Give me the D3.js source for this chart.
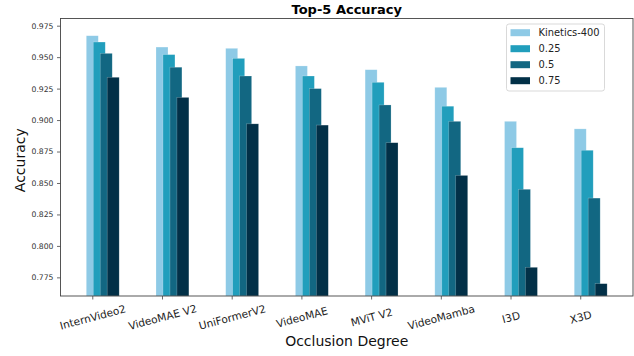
<!DOCTYPE html>
<html>
<head>
<meta charset="utf-8">
<script src="https://cdn.jsdelivr.net/npm/d3@7"></script>
<style>
  html, body { margin: 0; padding: 0; background: #fff; }
  svg { display: block; font-family: "DejaVu Sans", sans-serif; }
</style>
</head>
<body>
<svg id="chart" width="634" height="356"></svg>
<script>
// Models along the x axis
const models = ["InternVideo2", "VideoMAE V2", "UniFormerV2", "VideoMAE", "MViT V2", "VideoMamba", "I3D", "X3D"];

// Top-5 accuracy per occlusion degree
const series = ["Kinetics-400", "0.25", "0.5", "0.75"];
const kinetics400 = [0.967, 0.958, 0.957, 0.943, 0.940, 0.926, 0.899, 0.893];
const occ025      = [0.962, 0.952, 0.949, 0.935, 0.930, 0.911, 0.878, 0.876];
const occ050      = [0.953, 0.942, 0.935, 0.925, 0.912, 0.899, 0.845, 0.838];
const occ075      = [0.934, 0.918, 0.897, 0.896, 0.882, 0.856, 0.783, 0.770];
const seriesValues = [kinetics400, occ025, occ050, occ075];
const colors = ["#8ecae6", "#219ebc", "#126782", "#023047"];

const yTicks = [0.775, 0.800, 0.825, 0.850, 0.875, 0.900, 0.925, 0.950, 0.975];

const svg = d3.select("#chart");
const plot = { left: 60.5, right: 633, top: 18.5, bottom: 296 };

const barWidth = 0.172;  // in category units
const barStep = 0.1;     // shift between consecutive series

const x = d3.scaleLinear().domain([-0.456, 7.757]).range([plot.left, plot.right]);
const y = d3.scaleLinear().domain([0.7602, 0.9807]).range([plot.bottom, plot.top]);

// Bars
const g = svg.append("g");
series.forEach((name, si) => {
  g.selectAll(null)
    .data(seriesValues[si])
    .join("rect")
    .attr("x", (d, i) => x(i + si * barStep - barWidth / 2))
    .attr("width", x(barWidth) - x(0))
    .attr("y", d => y(d))
    .attr("height", d => y.range()[0] - y(d))
    .attr("fill", colors[si])
    .attr("stroke", "#ffffff")
    .attr("stroke-opacity", 0.35)
    .attr("stroke-width", 0.6);
});

// Y axis
const yAxis = svg.append("g")
  .attr("transform", `translate(${plot.left},0)`)
  .call(d3.axisLeft(y).tickValues(yTicks).tickFormat(d3.format(".3f")).tickSize(3.5).tickPadding(3.5));
yAxis.select(".domain").remove();
yAxis.selectAll("text").attr("font-size", 7.7).attr("fill", "#333").attr("font-family", "DejaVu Sans, sans-serif");
yAxis.selectAll("line").attr("stroke", "#444").attr("stroke-width", 0.8);

// X axis
const xAxis = svg.append("g")
  .attr("transform", `translate(0,${plot.bottom})`)
  .call(d3.axisBottom(x).tickValues(d3.range(models.length)).tickFormat(i => models[i]).tickSize(3.5));
xAxis.select(".domain").remove();
xAxis.selectAll("line").attr("stroke", "#444").attr("stroke-width", 0.8);
xAxis.selectAll("text")
  .attr("font-size", 10.6)
  .attr("fill", "#222")
  .attr("font-family", "DejaVu Sans, sans-serif")
  .attr("text-anchor", "middle")
  .attr("dy", null)
  .attr("y", 0)
  .attr("dominant-baseline", "central")
  .attr("transform", "translate(0,21) rotate(-15)");

// Frame
svg.append("rect")
  .attr("x", plot.left).attr("y", plot.top)
  .attr("width", plot.right - plot.left).attr("height", plot.bottom - plot.top)
  .attr("fill", "none").attr("stroke", "#444").attr("stroke-width", 0.9);

// Title and axis labels
svg.append("text")
  .attr("x", (plot.left + plot.right) / 2).attr("y", 13.5)
  .attr("text-anchor", "middle").attr("font-size", 13).attr("font-weight", "bold")
  .text("Top-5 Accuracy");

svg.append("text")
  .attr("x", (plot.left + plot.right) / 2).attr("y", 345.5)
  .attr("text-anchor", "middle").attr("font-size", 14).attr("fill", "#111")
  .text("Occlusion Degree");

svg.append("text")
  .attr("transform", `translate(24.5,${(plot.top + plot.bottom) / 2 + 3}) rotate(-90)`)
  .attr("text-anchor", "middle").attr("font-size", 14).attr("fill", "#111")
  .text("Accuracy");

// Legend
const legend = svg.append("g").attr("transform", "translate(506.5,24)");
legend.append("rect")
  .attr("width", 98).attr("height", 67).attr("rx", 2.5)
  .attr("fill", "#fff").attr("fill-opacity", 0.8)
  .attr("stroke", "#d5d5d5").attr("stroke-width", 0.9);
series.forEach((name, si) => {
  const row = legend.append("g").attr("transform", `translate(0,${8.7 + si * 16})`);
  row.append("rect").attr("x", 4).attr("y", -3.5).attr("width", 19.5).attr("height", 7).attr("fill", colors[si]);
  row.append("text").attr("x", 32).attr("y", 0).attr("dominant-baseline", "central")
    .attr("font-size", 9.9).attr("fill", "#222").text(name);
});
</script>
</body>
</html>
